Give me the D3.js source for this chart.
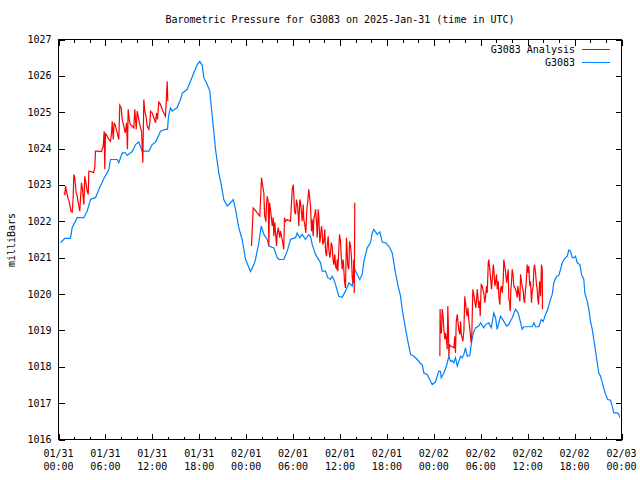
<!DOCTYPE html>
<html>
<head>
<meta charset="utf-8">
<script src="https://cdn.jsdelivr.net/npm/d3@7"></script>
<style>
body{margin:0;background:#fff}
svg{display:block}
text{font-family:"DejaVu Sans Mono","Liberation Mono",monospace;font-size:10px;fill:#000}
</style>
</head>
<body>
<svg id="c" width="640" height="480"></svg>
<script>
// ---- data (time in hours since 2025-01-31 00:00 UTC, pressure in millibars) ----
const stationHours = [0.26,0.81,1.53,1.75,2.39,3.24,3.67,4.09,4.73,5.15,5.79,6.43,6.65,7.51,7.71,8.15,8.57,8.79,9.43,9.85,10.27,10.70,11.55,11.98,12.41,13.05,13.68,13.94,14.07,14.32,14.54,15.18,15.60,15.82,16.46,16.88,17.30,17.74,18.07,18.38,18.58,19.02,19.35,19.53,19.79,20.08,20.50,20.85,21.14,21.58,22.00,22.34,22.64,23.06,23.49,23.92,24.56,24.98,25.19,25.62,25.92,26.26,26.69,26.90,27.54,27.97,28.17,28.81,29.25,29.67,30.31,30.53,30.86,31.17,31.59,32.01,32.23,32.45,32.87,33.51,33.73,34.15,34.44,34.79,35.00,35.21,35.43,35.85,36.28,36.70,37.13,37.56,37.89,38.20,38.53,38.84,39.05,39.48,39.90,40.12,40.32,40.76,41.09,41.40,41.82,42.24,42.68,43.10,43.39,43.74,43.96,44.25,44.51,44.80,45.02,45.44,45.88,46.30,46.51,46.72,47.15,47.58,47.79,48.21,48.43,48.64,48.86,48.94,49.28,49.62,49.92,50.13,50.35,50.56,50.77,50.99,51.20,51.41,51.63,51.84,52.05,52.27,52.60,52.78,53.04,53.33,53.75,53.97,54.39,54.61,55.03,55.34,55.67,55.89,56.10,56.31,56.53,56.95,57.30,57.59,58.02,58.45,58.79,59.00,59.30,59.51,60.58,60.79,61.01,61.43,61.73,61.99,62.28,62.58,62.83,63.14,63.34,63.69,63.98,64.20,64.42,64.71,65.06,65.26,65.48,65.70,65.90,66.12,66.34,66.67,66.89,67.18,67.31,67.62,67.82,68.04,68.26,68.46,68.68,68.90,69.10,69.32,69.66,69.96,70.25,70.60,70.81,71.02,71.46,71.66,71.79];
const stationPressure = [1021.41,1021.53,1021.53,1021.83,1022.10,1022.10,1022.28,1022.60,1022.65,1022.87,1023.17,1023.42,1023.70,1023.70,1023.61,1023.88,1023.88,1023.81,1023.92,1024.11,1024.18,1023.93,1023.93,1024.11,1024.18,1024.48,1024.53,1024.53,1024.89,1025.12,1025.03,1025.13,1025.35,1025.52,1025.63,1025.85,1026.08,1026.31,1026.40,1026.29,1025.95,1025.76,1025.58,1025.17,1024.62,1023.98,1023.33,1022.97,1022.60,1022.42,1022.51,1022.60,1022.33,1021.82,1021.50,1020.95,1020.62,1020.81,1020.95,1021.41,1021.87,1021.64,1021.50,1021.32,1021.27,1021.00,1020.95,1020.95,1021.18,1021.50,1021.55,1021.68,1021.55,1021.64,1021.50,1021.64,1021.58,1021.36,1021.09,1020.86,1020.63,1020.63,1020.45,1020.40,1020.49,1020.40,1020.26,1019.94,1019.91,1020.08,1020.31,1020.22,1020.68,1020.54,1020.40,1020.54,1020.90,1021.27,1021.41,1021.68,1021.78,1021.64,1021.71,1021.43,1021.41,1021.32,1021.13,1020.58,1020.26,1019.94,1019.58,1019.21,1018.89,1018.57,1018.34,1018.29,1018.20,1018.09,1018.06,1017.83,1017.79,1017.60,1017.51,1017.58,1017.74,1017.88,1017.87,1017.70,1017.83,1018.02,1018.29,1018.15,1018.17,1018.11,1018.25,1018.02,1018.15,1018.29,1018.25,1018.34,1018.52,1018.29,1018.31,1018.61,1018.93,1019.07,1019.12,1019.21,1019.07,1019.16,1019.21,1019.07,1019.48,1019.35,1019.03,1019.21,1019.39,1019.25,1019.12,1019.16,1019.35,1019.58,1019.48,1019.30,1019.03,1019.10,1019.10,1019.21,1019.10,1019.10,1019.30,1019.25,1019.44,1019.58,1019.80,1019.99,1020.31,1020.49,1020.51,1020.68,1020.86,1020.97,1021.04,1021.21,1021.18,1021.00,1021.00,1021.04,1020.86,1020.81,1020.54,1020.40,1020.03,1019.80,1019.58,1019.25,1019.03,1018.75,1018.43,1018.11,1017.83,1017.74,1017.47,1017.24,1017.10,1017.08,1016.92,1016.73,1016.73,1016.69,1016.60];

const analysisHours1 = [0.68,0.81,0.90,1.02,1.19,1.41,1.60,1.75,1.88,1.96,2.08,2.26,2.39,2.60,2.72,2.81,2.94,3.07,3.24,3.36,3.54,3.67,3.80,3.88,4.09,4.48,4.64,4.73,4.86,5.50,5.72,5.84,5.92,6.01,6.23,6.43,6.65,6.78,6.87,7.00,7.12,7.29,7.51,7.71,7.84,8.02,8.15,8.35,8.53,8.70,8.82,8.91,9.08,9.21,9.43,9.63,9.76,9.94,10.07,10.27,10.49,10.62,10.78,10.91,11.04,11.22,11.34,11.55,11.68,11.77,11.98,12.19,12.41,12.53,12.66,12.83,13.05,13.26,13.47,13.68,13.81,13.90,13.98];
const analysisPressure1 = [1022.78,1022.74,1022.97,1022.82,1022.66,1022.51,1022.27,1022.25,1022.66,1023.29,1023.20,1022.78,1022.69,1022.42,1022.28,1022.60,1023.06,1022.88,1022.46,1023.24,1023.01,1022.83,1022.74,1023.38,1023.37,1023.34,1023.47,1023.93,1023.93,1023.92,1024.07,1024.48,1023.43,1024.43,1024.34,1024.25,1024.20,1024.43,1024.75,1024.25,1024.71,1024.62,1024.43,1024.25,1025.19,1025.12,1024.80,1024.62,1024.43,1024.71,1023.98,1025.08,1024.75,1024.66,1024.62,1024.57,1025.08,1024.53,1025.03,1024.80,1024.57,1024.48,1023.61,1025.35,1025.03,1024.85,1024.62,1024.53,1024.71,1025.03,1024.98,1024.85,1024.71,1024.98,1024.80,1025.28,1025.21,1025.08,1024.98,1024.89,1025.44,1025.85,1025.30];

const analysisHours2 = [24.68,24.90,25.07,25.41,25.74,25.83,25.96,26.05,26.26,26.35,26.51,26.60,26.69,26.82,26.90,26.99,27.11,27.33,27.46,27.54,27.66,27.88,27.97,28.10,28.30,28.39,28.61,28.81,28.90,29.03,29.25,29.67,29.89,30.02,30.09,30.18,30.31,30.44,30.57,30.66,30.73,30.86,30.95,31.08,31.17,31.30,31.37,31.50,31.63,31.76,31.88,32.01,32.14,32.23,32.36,32.45,32.57,32.66,32.74,32.87,33.00,33.09,33.21,33.29,33.42,33.51,33.64,33.73,33.80,33.93,34.06,34.15,34.28,34.36,34.49,34.57,34.70,34.79,34.88,35.00,35.13,35.21,35.34,35.43,35.56,35.64,35.72,35.85,35.94,36.07,36.16,36.28,36.41,36.58,36.70,36.83,37.00,37.13,37.22,37.35,37.47,37.56,37.69,37.76,37.83,37.89];
const analysisPressure2 = [1021.32,1022.37,1022.33,1022.23,1022.14,1022.55,1023.20,1023.06,1022.78,1022.19,1021.99,1022.46,1022.69,1022.55,1021.32,1022.51,1022.33,1021.87,1022.11,1021.59,1021.97,1021.32,1021.64,1021.83,1021.55,1021.73,1021.50,1021.23,1022.10,1022.00,1022.05,1022.00,1022.88,1023.01,1022.74,1022.28,1022.19,1022.60,1022.42,1022.19,1021.87,1022.60,1022.51,1022.23,1022.00,1022.46,1022.05,1021.91,1021.68,1022.33,1022.55,1022.88,1022.60,1022.42,1021.73,1022.05,1021.59,1022.10,1022.14,1022.33,1021.96,1021.55,1022.33,1022.14,1021.41,1021.59,1021.87,1021.68,1021.36,1021.45,1021.78,1021.18,1021.04,1021.32,1021.59,1021.23,1021.00,1021.13,1021.41,1021.32,1020.90,1020.81,1021.09,1020.77,1020.68,1020.95,1020.63,1021.23,1021.64,1021.45,1021.04,1020.68,1020.95,1020.35,1020.17,1021.55,1020.77,1020.68,1021.45,1021.32,1021.00,1020.45,1020.31,1020.95,1020.03,1022.51];

const analysisHours3 = [48.77,48.80,48.86,48.98,49.07,49.20,49.28,49.41,49.49,49.62,49.71,49.79,49.88,49.92,50.01,50.13,50.35,50.56,50.68,50.77,50.86,50.99,51.12,51.19,51.32,51.41,51.54,51.63,51.71,51.84,51.96,52.05,52.18,52.27,52.35,52.47,52.56,52.69,52.78,52.86,52.99,53.11,53.24,53.37,53.46,53.55,53.68,53.75,53.84,53.93,54.06,54.19,54.32,54.39,54.52,54.61,54.74,54.83,54.96,55.03,55.16,55.25,55.38,55.47,55.60,55.67,55.80,55.89,56.02,56.11,56.24,56.31,56.44,56.53,56.62,56.75,56.87,56.95,57.04,57.17,57.30,57.39,57.51,57.59,57.68,57.77,57.85,57.93,58.02,58.15,58.23,58.36,58.45,58.58,58.66,58.74,58.83,58.92,59.00,59.09,59.18,59.30,59.43,59.51,59.60,59.69,59.81,59.94,60.07,60.14,60.27,60.36,60.49,60.58,60.71,60.79,60.88,61.01,61.14,61.22,61.30,61.39,61.52,61.65,61.77,61.86,61.90];
const analysisPressure3 = [1018.29,1019.59,1018.93,1018.93,1019.59,1019.35,1019.03,1018.75,1018.93,1018.75,1018.48,1019.67,1018.93,1018.29,1018.61,1018.57,1018.55,1018.52,1018.84,1018.38,1019.21,1019.44,1019.16,1019.03,1018.89,1019.25,1018.84,1018.80,1018.70,1018.98,1019.94,1019.76,1019.48,1019.39,1019.62,1019.30,1019.12,1018.84,1018.66,1018.93,1020.13,1019.99,1019.80,1019.62,1019.85,1020.13,1019.80,1019.62,1019.80,1019.39,1020.26,1020.22,1020.08,1020.03,1019.76,1019.90,1020.22,1020.03,1020.86,1020.95,1020.68,1020.45,1020.13,1020.40,1020.81,1020.68,1020.22,1020.31,1020.54,1020.13,1020.35,1019.94,1019.71,1020.13,1020.22,1020.03,1020.35,1020.95,1020.81,1020.63,1020.31,1020.45,1020.68,1019.85,1019.80,1019.53,1020.13,1020.31,1020.68,1020.49,1020.22,1020.17,1020.13,1020.03,1019.90,1020.22,1020.08,1019.94,1019.80,1020.54,1020.40,1020.22,1020.08,1019.85,1019.76,1020.03,1020.31,1020.81,1020.58,1020.77,1020.22,1020.35,1019.76,1020.08,1020.22,1020.68,1020.81,1020.58,1020.22,1020.13,1019.85,1019.71,1020.35,1019.94,1020.81,1020.68,1019.58];

const yTicks = [1016,1017,1018,1019,1020,1021,1022,1023,1024,1025,1026,1027];
const seriesNames = ["G3083 Analysis","G3083"];
const seriesColors = ["#ff0000","#0080ff"];
const titleText = "Barometric Pressure for G3083 on 2025-Jan-31 (time in UTC)";
const yLabelText = "milliBars";

// ---- chart ----
const start = Date.UTC(2025,0,31);
const toDate = h => new Date(start + h*3600000);
const zip = (hs, vs) => hs.map((h,i) => ({t: toDate(h), v: vs[i]}));

const L = 58.5, R = 621.5, T = 39.5, B = 439.5;
const x = d3.scaleUtc().domain([toDate(0), toDate(72)]).range([L, R]);
const y = d3.scaleLinear().domain([1016,1027]).range([B, T]);

const svg = d3.select("#c");
svg.append("rect").attr("width",640).attr("height",480).attr("fill","#fff");

const major = d3.utcHour.every(6).range(toDate(0), toDate(72.01));
const minor = d3.utcHour.every(2).range(toDate(0), toDate(72.01)).filter(d => d.getUTCHours() % 6 !== 0);

function styleAxis(g){
  g.select(".domain").remove();
  g.selectAll("line").attr("stroke","#000").attr("shape-rendering","crispEdges");
  g.selectAll("text").remove();
}
svg.append("g").attr("transform",`translate(0,${B})`).call(d3.axisBottom(x).tickValues(major).tickSize(-6)).call(styleAxis);
svg.append("g").attr("transform",`translate(0,${B})`).call(d3.axisBottom(x).tickValues(minor).tickSize(-3)).call(styleAxis);
svg.append("g").attr("transform",`translate(0,${T})`).call(d3.axisTop(x).tickValues(major).tickSize(-6)).call(styleAxis);
svg.append("g").attr("transform",`translate(0,${T})`).call(d3.axisTop(x).tickValues(minor).tickSize(-3)).call(styleAxis);
svg.append("g").attr("transform",`translate(${L},0)`).call(d3.axisLeft(y).tickValues(yTicks).tickSize(-6)).call(styleAxis);
svg.append("g").attr("transform",`translate(${R},0)`).call(d3.axisRight(y).tickValues(yTicks).tickSize(-6)).call(styleAxis);

// frame
svg.append("rect").attr("x",L).attr("y",T).attr("width",R-L).attr("height",B-T)
  .attr("fill","none").attr("stroke","#000").attr("shape-rendering","crispEdges");

// y labels
svg.append("g").selectAll("text").data(yTicks).join("text")
  .attr("x", L-7).attr("y", d => y(d)).attr("dy","0.35em").attr("text-anchor","end").text(d => d);

// x labels
const fmtD = d3.utcFormat("%m/%d"), fmtH = d3.utcFormat("%H:%M");
const xl = svg.append("g").selectAll("text").data(major).join("text").attr("text-anchor","middle");
xl.append("tspan").attr("x", d => x(d)).attr("y", 457).text(fmtD);
xl.append("tspan").attr("x", d => x(d)).attr("y", 470).text(fmtH);

// title and y label
svg.append("text").attr("x",340).attr("y",23).attr("text-anchor","middle").text(titleText);
svg.append("text").attr("transform","translate(15,240) rotate(-90)").attr("text-anchor","middle").text(yLabelText);

// lines
const line = d3.line().x(d => x(d.t)).y(d => y(d.v));
const plot = svg.append("g");
plot.append("path").datum(zip(stationHours, stationPressure))
  .attr("d", line).attr("fill","none").attr("stroke",seriesColors[1]).attr("stroke-width",1.2);
[[analysisHours1,analysisPressure1],[analysisHours2,analysisPressure2],[analysisHours3,analysisPressure3]].forEach(([h,v]) => {
  plot.append("path").datum(zip(h,v)).attr("d", line).attr("fill","none")
    .attr("stroke",seriesColors[0]).attr("stroke-width",1.2);
});

// legend
const lg = svg.append("g");
seriesNames.forEach((n,i) => {
  const yy = 49 + i*13;
  lg.append("text").attr("x",575).attr("y",yy).attr("dy","0.35em").attr("text-anchor","end").text(n);
  lg.append("line").attr("x1",582).attr("x2",610).attr("y1",yy+0.5).attr("y2",yy+0.5)
    .attr("stroke",seriesColors[i]).attr("stroke-width",1).attr("shape-rendering","crispEdges");
});
</script>
</body>
</html>
